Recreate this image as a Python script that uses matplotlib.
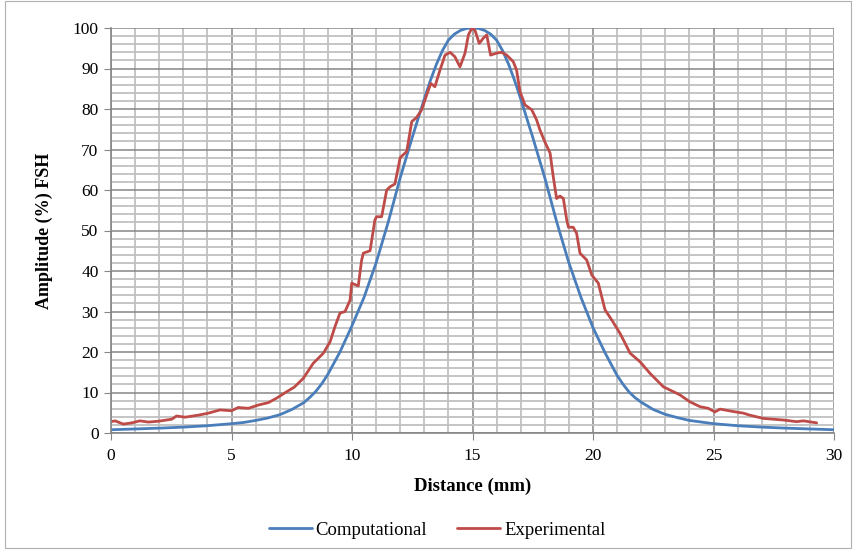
import matplotlib
matplotlib.use("Agg")
import matplotlib.pyplot as plt
from matplotlib.ticker import MultipleLocator
from matplotlib.patches import Rectangle
import numpy as np

# Computational curve
comp_x = [0, 1, 2, 3, 4, 5, 5.5, 6, 6.5, 7, 7.5, 8, 8.25, 8.5, 8.75, 9, 9.5, 10, 10.5, 11, 11.5,
          12, 12.5, 13, 13.25, 13.5, 13.75, 14, 14.25, 14.5, 14.75, 15, 15.25, 15.5, 15.75,
          16, 16.25, 16.5, 16.75, 17, 17.5, 18, 18.5, 19,
          19.5, 20, 20.5, 21, 21.25, 21.5, 21.75, 22, 22.5, 23, 23.5, 24, 24.5, 25, 26, 27, 28, 29, 30]
comp_y = [0.8, 1.0, 1.2, 1.45, 1.8, 2.3, 2.6, 3.1, 3.7, 4.5, 5.8, 7.5, 8.8, 10.3, 12.2, 14.5, 20.0,
          26.5, 33.5, 42.0, 52.0, 63.0, 73.0, 82.5, 87.0, 91.0, 94.4, 97.0, 98.5, 99.4, 99.9,
          100, 99.9, 99.4, 98.5, 97.0, 94.4, 91.0, 87.0, 82.5, 73.0, 63.0, 52.0, 42.0,
          33.5, 26.0, 19.8, 14.2, 12.0, 10.1, 8.7, 7.6, 5.8,
          4.6, 3.8, 3.1, 2.7, 2.3, 1.8, 1.45, 1.2, 1.0, 0.8]

# Experimental curve
exp_x = [0.0, 0.17, 0.51, 0.86, 1.2, 1.55, 1.96, 2.52, 2.72, 3.07, 3.62, 4.04, 4.52, 5.0,
         5.28, 5.7, 6.11, 6.53, 6.87, 7.29, 7.6, 7.98, 8.39, 8.81, 9.09, 9.29, 9.5, 9.71,
         9.92, 9.99, 10.26, 10.4, 10.47, 10.75, 10.95, 11.02, 11.23, 11.44, 11.58, 11.78,
         12.0, 12.27, 12.48, 12.68, 12.89, 13.1, 13.27, 13.44, 13.65, 13.86, 14.07, 14.27,
         14.48, 14.69, 14.83, 14.97, 15.1, 15.28, 15.45, 15.59, 15.75, 16.0, 16.21, 16.42,
         16.69, 16.83, 16.97, 17.18, 17.46, 17.66, 17.8, 18.0, 18.22, 18.35, 18.49, 18.63,
         18.77, 18.91, 18.98, 19.18, 19.32, 19.46, 19.74, 19.95, 20.22, 20.5, 20.78, 21.12,
         21.26, 21.54, 21.95, 22.37, 22.92, 23.27, 23.61, 24.02, 24.44, 24.78, 25.06, 25.27,
         25.82, 26.24, 26.51, 27.07, 27.5, 27.9, 28.45, 28.73, 29.28]
exp_y = [2.8, 3.0, 2.2, 2.5, 3.0, 2.7, 2.9, 3.4, 4.2, 3.9, 4.4, 4.9, 5.7, 5.5,
         6.3, 6.1, 6.9, 7.5, 8.6, 10.2, 11.3, 13.5, 17.2, 19.7, 22.5, 26.2, 29.6, 30.0,
         32.8, 37.0, 36.3, 42.7, 44.4, 45.0, 52.6, 53.4, 53.4, 60.0, 60.8, 61.5,
         68.0, 69.5, 76.9, 77.9, 79.8, 83.5, 86.3, 85.5, 89.6, 93.3, 94.0, 92.9,
         90.4, 93.8, 98.3, 99.9, 99.5, 96.2, 97.5, 98.3, 93.3, 93.8, 94.0, 93.3,
         91.7, 89.6, 84.3, 81.0, 79.8, 77.3, 74.8, 71.9, 69.1, 63.3, 57.9, 58.5,
         57.9, 52.6, 50.8, 50.8, 49.3, 44.4, 42.7, 39.0, 37.0, 30.4, 27.9, 24.6,
         23.0, 19.7, 17.6, 14.7, 11.4, 10.4, 9.4, 7.7, 6.5, 6.1, 5.2, 5.9,
         5.3, 4.9, 4.4, 3.6, 3.4, 3.2, 2.8, 3.0, 2.5]

x_ticks = [0, 5, 10, 15, 20, 25, 30]
y_ticks = [0, 10, 20, 30, 40, 50, 60, 70, 80, 90, 100]

plt.rcParams['font.family'] = ['Liberation Serif', 'DejaVu Serif']

fig = plt.figure(figsize=(8.57, 5.51), dpi=100)
ax = fig.add_axes([111/857, 1-433/551, (834-111)/857, (433-28)/551])

ax.set_xlim(0, 30)
ax.set_ylim(0, 100)
ax.set_xticks(x_ticks)
ax.set_yticks(y_ticks)
ax.xaxis.set_minor_locator(MultipleLocator(1))
ax.yaxis.set_minor_locator(MultipleLocator(2))

ax.grid(which='minor', color='#c0c0c0', linewidth=1.3)
ax.grid(which='major', color='#868686', linewidth=1.1)
ax.set_axisbelow(True)

for s in ['top', 'right']:
    ax.spines[s].set_visible(False)
for s in ['left', 'bottom']:
    ax.spines[s].set_color('#868686')
    ax.spines[s].set_linewidth(1.2)

ax.tick_params(which='major', direction='out', length=5, color='#868686', labelsize=12.5,
               pad=4)
ax.tick_params(axis='x', which='major', pad=6)
ax.tick_params(which='minor', length=0)

ax.plot(comp_x, comp_y, color='#4A7EBB', linewidth=2.0, label='Computational',
        solid_joinstyle='round', solid_capstyle='round')
ax.plot(exp_x, exp_y, color='#BE4B48', linewidth=2.0, label='Experimental',
        solid_joinstyle='round', solid_capstyle='round')

ax.set_xlabel('Distance (mm)', fontsize=13.5, fontweight='bold', labelpad=10)
ax.set_ylabel('Amplitude (%) FSH', fontsize=13, fontweight='bold', labelpad=14)

fig.legend(loc='center', bbox_to_anchor=(437/857, 1-530/551), ncol=2, frameon=False,
           fontsize=13.5, handlelength=2.3, columnspacing=1.6, handletextpad=0.2)

fig.patches.append(Rectangle((5/857, 3/551), 846/857, 547/551, transform=fig.transFigure,
                             fill=False, edgecolor='#b0b0b0', linewidth=0.8))

fig.savefig('out.png', dpi=100)
